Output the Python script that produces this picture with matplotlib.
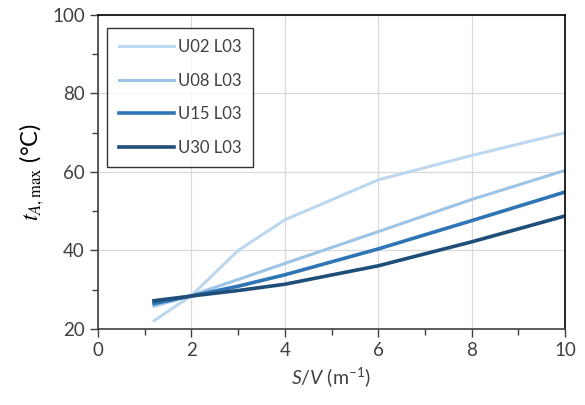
import matplotlib
matplotlib.use("Agg")
import matplotlib.pyplot as plt
from matplotlib.ticker import MultipleLocator

plt.rcParams['font.family'] = ['Lato', 'DejaVu Sans']
plt.rcParams['mathtext.fontset'] = 'custom'
plt.rcParams['mathtext.rm'] = 'Lato'
plt.rcParams['mathtext.it'] = 'Lato:italic'

sv = [1.2, 2, 3, 4, 6, 8, 10]
u02 = [22.1, 28.5, 40.0, 47.8, 58.0, 64.2, 70.0]
u08 = [25.8, 28.6, 32.6, 36.7, 44.8, 53.0, 60.4]
u15 = [26.5, 28.4, 30.9, 33.8, 40.4, 47.6, 54.9]
u30 = [27.2, 28.4, 29.8, 31.4, 36.1, 42.2, 48.8]
labels = ['U02 L03', 'U08 L03', 'U15 L03', 'U30 L03']
colors = ['#bdd7ee', '#9dc3e6', '#2e75b6', '#1f4e79']
widths = [2.2, 2.2, 2.6, 2.6]

fig = plt.figure(figsize=(5.85, 4.05), dpi=100)
ax = fig.add_axes([0.1675, 0.1877, 0.7985, 0.7753])

for ys, lab, c, w in zip([u02, u08, u15, u30], labels, colors, widths):
    ax.plot(sv, ys, color=c, lw=w, label=lab, solid_joinstyle='round')

ax.set_xlim(0, 10)
ax.set_ylim(20, 100)
ax.xaxis.set_major_locator(MultipleLocator(2))
ax.xaxis.set_minor_locator(MultipleLocator(1))
ax.yaxis.set_major_locator(MultipleLocator(20))
ax.yaxis.set_minor_locator(MultipleLocator(10))
ax.grid(True, which='major', color='#d9d9d9', lw=0.9)
ax.set_axisbelow(True)
ax.tick_params(which='major', direction='out', length=6, width=1, colors='#404040',
               labelsize=13.5, labelcolor='#404040')
ax.tick_params(which='minor', direction='out', length=4, width=1, colors='#404040')
for s in ['left', 'bottom']:
    ax.spines[s].set_color('#404040')
    ax.spines[s].set_linewidth(1.2)
for s in ['top', 'right']:
    ax.spines[s].set_color('black')
    ax.spines[s].set_linewidth(1.2)

xl = ax.set_xlabel(r'$\it{S/V}$ (m$^{-1}$)', fontsize=14, color='#404040')
xl.set_math_fontfamily('custom')
yl = ax.set_ylabel(r'$t_{A,\mathrm{max}}$ (°C)', fontsize=17, color='black')
yl.set_math_fontfamily('stix')

leg = ax.legend(loc='upper left', bbox_to_anchor=(0.02, 0.96), fontsize=12,
                frameon=True, fancybox=False, edgecolor='black', handlelength=3.3,
                labelspacing=1.05, borderpad=0.7, handletextpad=0.25,
                borderaxespad=0)
leg.get_frame().set_linewidth(1.0)
for t in leg.get_texts():
    t.set_color('#404040')

fig.savefig('out.png', dpi=100)
